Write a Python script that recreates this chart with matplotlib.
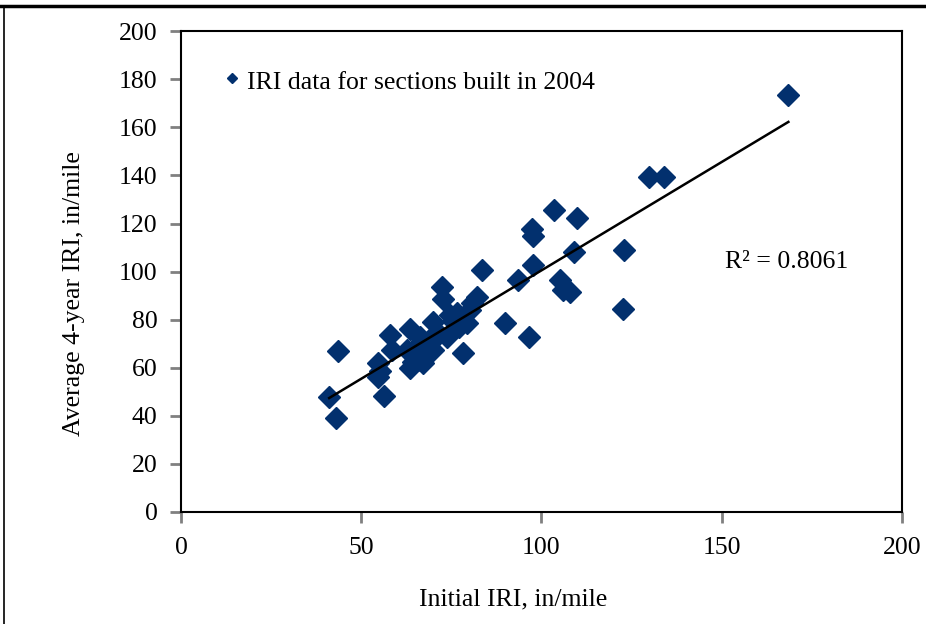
import numpy as np
import matplotlib.pyplot as plt
from matplotlib.lines import Line2D

plt.rcParams['font.family'] = ['Liberation Serif', 'DejaVu Serif']

# initial IRI vs average 4-year IRI, in/mile
initial_iri = [41.1, 42.9, 43.6, 54.7, 54.6, 56.4, 55.2, 58.0, 58.4, 62.6,
               63.5, 64.4, 63.5, 64.9, 66.3, 66.3, 68.1, 69.1, 70.0, 70.0,
               72.3, 72.8, 73.7, 74.6, 75.5, 76.5, 78.3, 79.3, 80.2, 80.6,
               82.0, 83.4, 89.9, 93.6, 96.6, 97.7, 97.5, 97.7, 103.5, 109.9,
               105.1, 106.1, 107.9, 108.9, 122.9, 122.7, 129.9, 134.1, 168.5,
               67.0, 71.0, 77.0, 65.5]
avg_iri = [47.9, 39.2, 67.0, 61.8, 56.0, 48.2, 58.8, 73.6, 67.4, 67.4,
           76.0, 62.5, 60.0, 65.5, 72.9, 63.2, 65.3, 70.1, 67.4, 79.1,
           93.4, 88.8, 72.9, 81.9, 79.5, 82.6, 66.0, 78.5, 84.0, 86.8,
           89.5, 100.6, 78.5, 96.5, 72.9, 102.6, 117.7, 114.9, 125.6, 122.1,
           96.5, 92.3, 91.6, 108.0, 109.0, 84.5, 139.2, 139.2, 173.6,
           62.0, 75.0, 77.0, 69.0]
r2_text = "R\u00b2 = 0.8061"
legend_label = "IRI data for sections built in 2004"

x = np.array(initial_iri)
y = np.array(avg_iri)
slope, icpt = np.polyfit(x, y, 1)
xl = np.array([x.min(), x.max()])

fig = plt.figure(figsize=(9.26, 6.24), dpi=100)
ax = fig.add_axes([0.1955, 0.1795, 0.7785, 0.7705])

ax.plot(x, y, 'D', color='#02306e', ms=11, mec='#02306e', zorder=2)
ax.plot(xl, slope * xl + icpt, color='black', lw=1.8, zorder=3)

ax.set_xlim(0, 200)
ax.set_ylim(0, 200)
ax.set_xticks(range(0, 201, 50))
ax.set_yticks(range(0, 201, 20))
ax.tick_params(direction='out', length=8, width=2, color='#808080',
               labelsize=18.5, pad=9)
ax.tick_params(axis='x', pad=10)
for s in ax.spines.values():
    s.set_linewidth(1.5)
    s.set_color('black')

ax.set_xlabel("Initial IRI, in/mile", fontsize=18.5)
ax.set_ylabel("Average 4-year IRI, in/mile", fontsize=18.5)
# labels sit a bit off-centre in the original
ax.xaxis.set_label_coords(0.46, -0.158)
ax.yaxis.set_label_coords(-0.133, 0.455)

# legend drawn as marker + text like the original
ax.plot([14.1], [180.5], 'D', color='#02306e', ms=5, clip_on=False)
ax.text(18.3, 178.3, legend_label, fontsize=18.5, va='center', ha='left')
ax.text(150.9, 104, r2_text, fontsize=18.5, va='center', ha='left')

# outer frame (top and left edges)
fig.add_artist(Line2D([0, 1], [0.991, 0.991], color='black', lw=2.5,
                      transform=fig.transFigure))
fig.add_artist(Line2D([0.0045, 0.0045], [0, 0.991], color='black', lw=1.2,
                      transform=fig.transFigure))

fig.savefig("out.png", dpi=100)
